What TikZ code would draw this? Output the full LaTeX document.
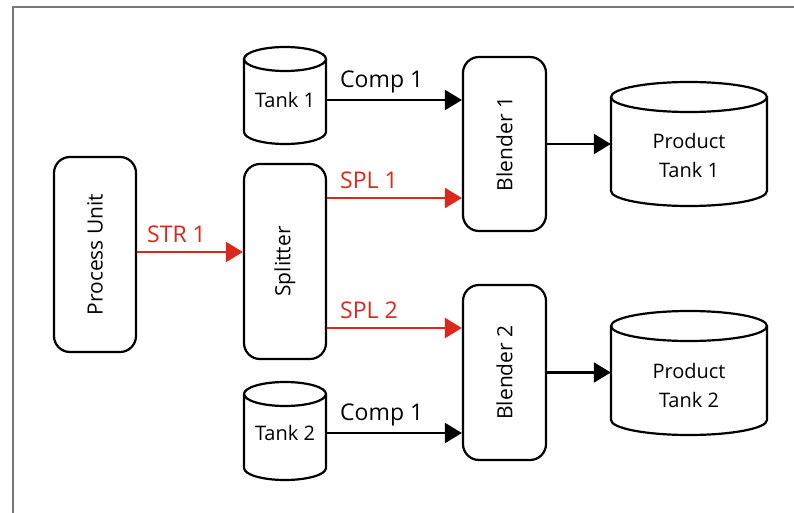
\documentclass[tikz,border=0pt]{standalone}
\usepackage{fontspec}
\setmainfont{Open Sans}
\usetikzlibrary{arrows.meta,calc}
\definecolor{myred}{RGB}{218,41,28}
\definecolor{framegray}{RGB}{120,120,120}
\newcommand\drawcyl[5]{%
  \pgfmathsetmacro\cylcx{(#1+#2)/2}%
  \pgfmathsetmacro\cylrx{(#2-#1)/2}%
  \draw[shp] (\cylcx pt,{-(#3+#5)*1pt}) ellipse[x radius=\cylrx pt, y radius=#5pt];
  \draw[shp] (#1pt,{-(#3+#5)*1pt}) -- (#1pt,{-(#4-#5)*1pt})
     arc[start angle=180,end angle=360,x radius=\cylrx pt,y radius=#5pt]
     -- (#2pt,{-(#3+#5)*1pt});
}
\begin{document}
\begin{tikzpicture}[
  shp/.style={draw, line width=2.2pt},
  box/.style={draw, line width=2.2pt, rounded corners=16pt, minimum width=82pt,
    inner sep=0pt, font=\fontsize{21}{25}\selectfont},
  txt/.style={inner sep=0pt, minimum width=82pt, font=\fontsize{20}{29}\selectfont},
  lbl/.style={inner sep=0pt, anchor=base west, font=\fontsize{23}{27}\selectfont},
  arr/.style={draw, line width=2.2pt, -{Triangle[length=17pt,width=20pt]}},
  rarr/.style={arr, myred}
]
\useasboundingbox (0,0) rectangle (794pt,-513pt);
\draw[framegray, line width=1.5pt] (13pt,-513pt) -- (13pt,-7pt) -- (794pt,-7pt);

% cylinders
\drawcyl{244}{326}{47}{144}{12}
\drawcyl{244}{326}{382}{480}{12}
\drawcyl{611}{767}{82}{206}{15}
\drawcyl{611}{767}{311}{435}{15}

\node[txt] (t1) at (285pt,-100pt) {Tank 1};
\node[txt] (t2) at (285pt,-433pt) {Tank 2};
\node[txt, minimum width=156pt, align=center] (p1) at (689pt,-156pt) {Product\\Tank 1};
\node[txt, minimum width=156pt, align=center] (p2) at (689pt,-385pt) {Product\\Tank 2};

% boxes
\node[box, minimum height=195pt] (pu) at (95pt,-254.5pt) {\rotatebox{90}{Process Unit}};
\node[box, minimum height=195pt] (sp) at (285pt,-261.5pt) {\rotatebox{90}{Splitter}};
\node[box, minimum width=83pt, minimum height=174pt] (b1) at (504.5pt,-144pt) {\rotatebox{90}{Blender 1}};
\node[box, minimum width=83pt, minimum height=175pt] (b2) at (504.5pt,-372.5pt) {\rotatebox{90}{Blender 2}};

% connectors
\draw[arr] (t1.east) -- (t1.east -| b1.west);
\draw[arr] (t2.east) -- (t2.east -| b2.west);
\draw[rarr] ([yshift=2.5pt]pu.east) -- ([yshift=2.5pt]pu.east -| sp.west);
\draw[rarr] ([yshift=63.5pt]sp.east) -- ([yshift=63.5pt]sp.east -| b1.west);
\draw[rarr] ([yshift=-66.5pt]sp.east) -- ([yshift=-66.5pt]sp.east -| b2.west);
\draw[arr] (b1.east) -- (b1.east -| p1.west);
\draw[arr] (b2.east) -- (b2.east -| p2.west);

% labels
\node[lbl] (lc1) at (340pt,-87.5pt) {Comp 1};
\node[lbl] (lc2) at (340pt,-420pt) {Comp 1};
\node[lbl, text=myred] (ls1) at (340pt,-189pt) {SPL 1};
\node[lbl, text=myred] (ls2) at (340pt,-318pt) {SPL 2};
\node[lbl, text=myred] (lstr) at (147pt,-242pt) {STR 1};
\end{tikzpicture}
\end{document}
